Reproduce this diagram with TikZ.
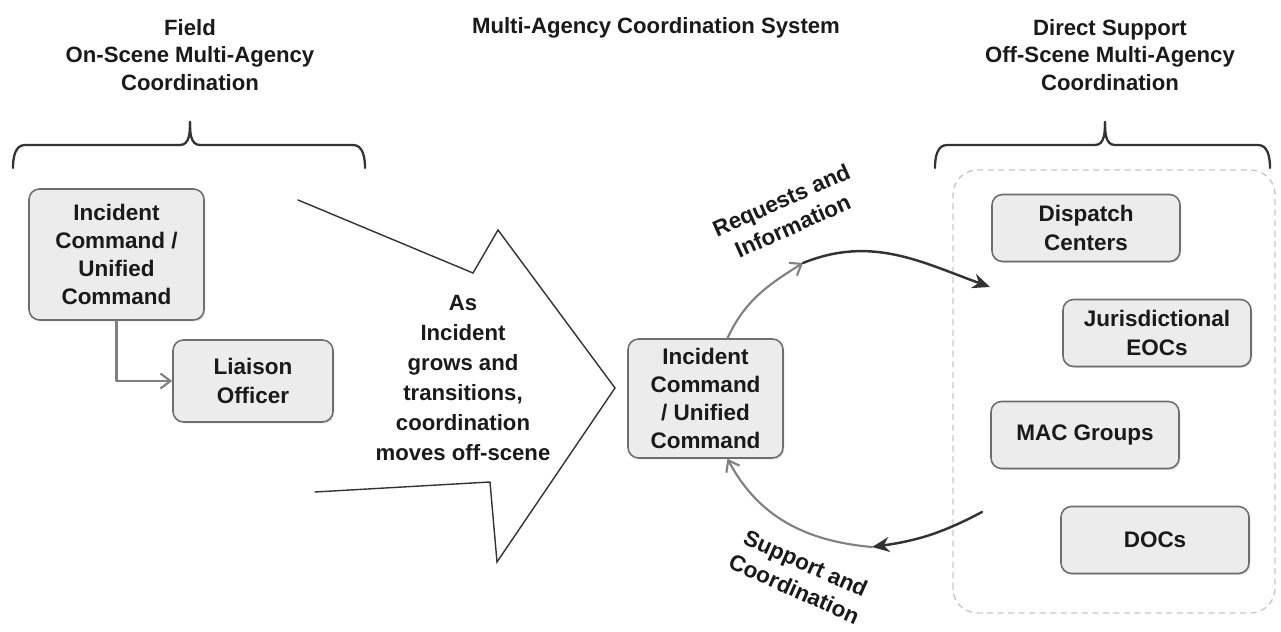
\documentclass[tikz,border=0pt]{standalone}
\usepackage{fontspec}
\setmainfont{Liberation Sans}
\usepackage{tikz}
\usetikzlibrary{arrows.meta,shadows}
\definecolor{mcEdge}{HTML}{6E6E6E}
\definecolor{mcFill}{HTML}{ECECEC}
\definecolor{mcInk}{HTML}{1A1A1A}
\definecolor{mcArrow}{HTML}{808080}
\definecolor{mcDark}{HTML}{333333}
\definecolor{mcDash}{HTML}{C8C8C8}
\tikzset{
  mc diagram/.style={font=\bfseries\fontsize{12.8}{16}\selectfont, text=mcInk,
    line cap=round, line join=round},
  mc box/.style={draw=mcEdge, fill=mcFill, line width=0.9pt,
    rounded corners=6pt, align=center, inner sep=3pt,
    drop shadow={opacity=0.25, shadow xshift=0.8pt, shadow yshift=-0.8pt}},
  mc side box/.style={mc box, minimum width=3.76cm, minimum height=1.34cm},
  mc title/.style={align=center, font=\bfseries\fontsize{12.6}{15.5}\selectfont},
  mc arrow/.style={-{Straight Barb[length=2mm,width=3mm]}, draw=mcArrow, line width=1.2pt},
  mc flow/.style={-{Stealth[length=3.5mm,width=3mm]}, draw=mcDark, line width=1.4pt},
  mc brace/.style={draw=mcDark, line width=1.3pt},
  mc big/.style={draw=mcDark, line width=0.8pt, line join=miter},
  mc group/.style={draw=mcDash, dashed, line width=0.8pt, rounded corners=14pt},
  mc label/.style={align=center}
}
\begin{document}
\begin{tikzpicture}[mc diagram]
\useasboundingbox (0,0) rectangle (25.62,12.64);
% headings and braces
\node[mc title] (field) at (3.8,11.54) {Field\\On-Scene Multi-Agency\\Coordination};
\node[mc title] (macs) at (13.12,12.08) {Multi-Agency Coordination System};
\node[mc title] (direct) at (22.2,11.54) {Direct Support\\Off-Scene Multi-Agency\\Coordination};
\draw[mc brace] (0.26,9.28) to[out=90,in=180] (0.5,9.74) -- (3.6,9.74) to[out=0,in=-90] (3.8,10.2);
\draw[mc brace] (3.8,10.2) to[out=-90,in=180] (4.0,9.74) -- (7.06,9.74) to[out=0,in=90] (7.3,9.28);
\draw[mc brace] (18.7,9.28) to[out=90,in=180] (18.94,9.74) -- (21.9,9.74) to[out=0,in=-90] (22.1,10.2);
\draw[mc brace] (22.1,10.2) to[out=-90,in=180] (22.3,9.74) -- (25.16,9.74) to[out=0,in=90] (25.4,9.28);
% on-scene side
\node[mc box, minimum width=3.5cm, minimum height=2.62cm] (ic1) at (2.33,7.55) {Incident\\Command /\\Unified\\Command};
\node[mc box, minimum width=3.2cm, minimum height=1.64cm] (liaison) at (5.06,5.02) {Liaison\\Officer};
\draw[mc arrow] (ic1) |- (liaison);
% transition arrow
\draw[mc big] (5.96,8.64) -- (9.46,7.18) -- (9.96,8.04) -- (12.3,4.88) -- (9.94,1.4) -- (9.8,3.0) -- (6.3,2.8);
\node[mc label, font=\bfseries\fontsize{12.6}{17}\selectfont] (grow) at (9.26,5.08) {As\\Incident\\grows and\\transitions,\\coordination\\moves off-scene};
% off-scene side
\node[mc box, minimum width=3.1cm, minimum height=2.38cm] (ic2) at (14.11,4.67) {Incident\\Command\\/ Unified\\Command};
\draw[mc group] (19.06,0.38) rectangle (25.5,9.24);
\node[mc side box] (dispatch) at (21.72,8.08) {Dispatch\\Centers};
\node[mc side box] (eoc) at (23.14,5.98) {Jurisdictional\\EOCs};
\node[mc side box] (mac) at (21.7,3.94) {MAC Groups};
\node[mc side box] (doc) at (23.1,1.84) {DOCs};
% request / support cycle
\coordinate (r1) at (16.06,7.38);
\coordinate (r2) at (19.8,6.9);
\coordinate (s1) at (19.64,2.4);
\coordinate (s2) at (17.44,1.7);
\draw[mc arrow] (ic2.70) to[out=65,in=212] (r1);
\draw[mc flow] (r1) to[out=22,in=160] (r2);
\draw[mc flow] (s1) to[out=208,in=8] (s2);
\draw[mc arrow] (s2) to[out=175,in=-62] (ic2.-70);
\node[mc label, rotate=24] (req) at (15.74,8.38) {Requests and\\Information};
\node[mc label, rotate=-24] (sup) at (16.0,1.12) {Support and\\Coordination};
\end{tikzpicture}
\end{document}
